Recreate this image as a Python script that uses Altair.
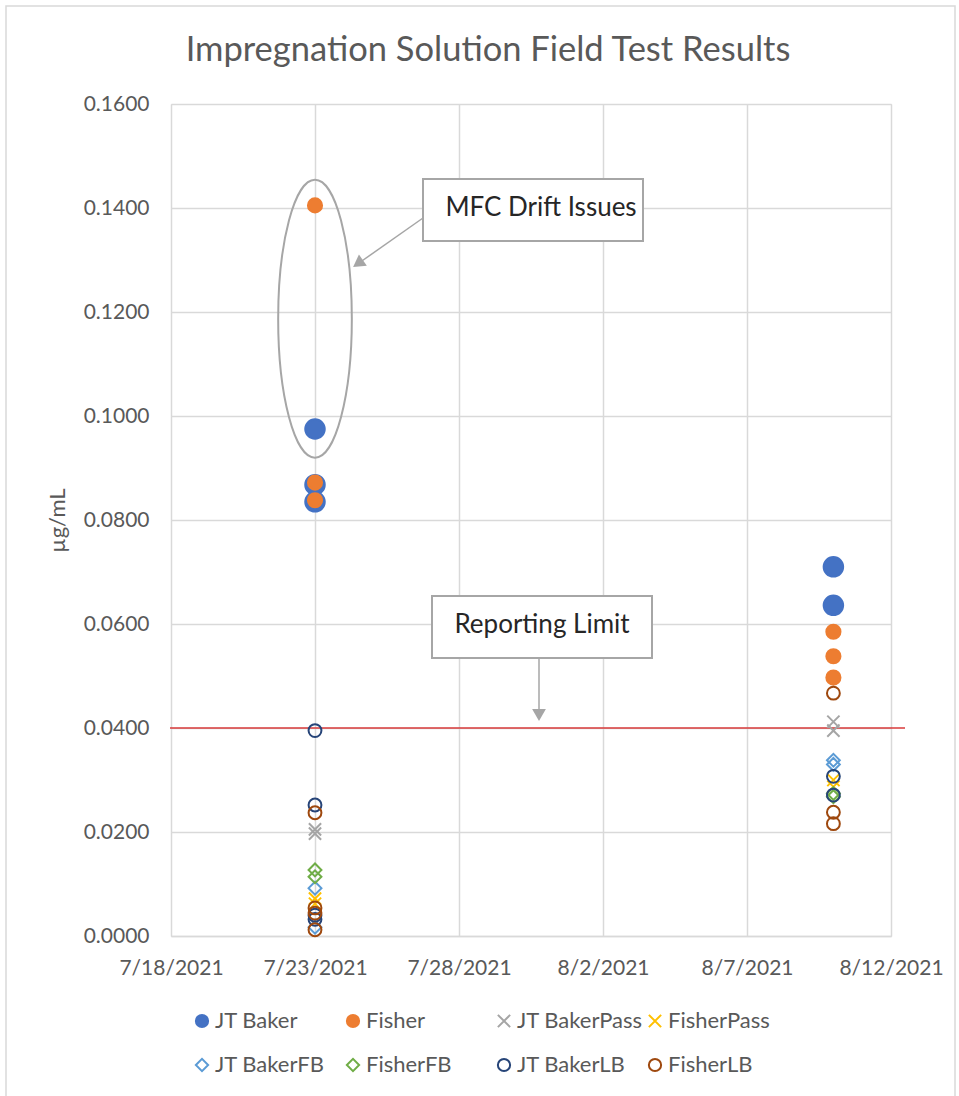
import altair as alt
import pandas as pd

# ---- data -------------------------------------------------------------
SERIES = ["JT Baker", "Fisher", "JT BakerPass", "FisherPass",
          "JT BakerFB", "FisherFB", "JT BakerLB", "FisherLB"]
STROKES = ["#4472C4", "#ED7D31", "#A5A5A5", "#FFC000",
           "#5B9BD5", "#70AD47", "#264478", "#9E480E"]
FILLS = ["#4472C4", "#ED7D31", "transparent", "transparent",
         "transparent", "transparent", "transparent", "transparent"]
X_PATH = "M-1,-1L1,1M-1,1L1,-1"
SHAPES = ["circle", "circle", X_PATH, X_PATH,
          "diamond", "diamond", "circle", "circle"]
SIZES = [380, 200, 150, 150, 165, 165, 165, 165]

DATE_1 = "2021-07-23"
DATE_2 = "2021-08-10"

# concentrations (µg/mL) per series at each sampling date
VALUES_1 = {
    "JT Baker": [0.0975, 0.0868, 0.0835],
    "Fisher": [0.1405, 0.0872, 0.0838],
    "JT BakerPass": [0.0205, 0.0197],
    "FisherPass": [0.0072, 0.0062],
    "JT BakerFB": [0.0092, 0.0017],
    "FisherFB": [0.0127, 0.0114],
    "JT BakerLB": [0.0395, 0.0252, 0.0040, 0.0032],
    "FisherLB": [0.0237, 0.0054, 0.0044, 0.0012],
}
VALUES_2 = {
    "JT Baker": [0.0710, 0.0636],
    "Fisher": [0.0585, 0.0538, 0.0497],
    "JT BakerPass": [0.0412, 0.0395],
    "FisherPass": [0.0300, 0.0287],
    "JT BakerFB": [0.0338, 0.0330],
    "FisherFB": [0.0274, 0.0268],
    "JT BakerLB": [0.0307, 0.0271],
    "FisherLB": [0.0467, 0.0238, 0.0216],
}

REPORTING_LIMIT = 0.0400
Y_TICKS = [0.0, 0.02, 0.04, 0.06, 0.08, 0.10, 0.12, 0.14, 0.16]
X_TICKS = [(2021, 7, 18), (2021, 7, 23), (2021, 7, 28),
           (2021, 8, 2), (2021, 8, 7), (2021, 8, 12)]

# circled group of drifted readings: centre date / value
DRIFT_DATE = "2021-07-23"
DRIFT_VALUE = 0.1187

TITLE = "Impregnation Solution Field Test Results"
Y_TITLE = "µg/mL"
NOTE_DRIFT = "MFC Drift Issues"
NOTE_LIMIT = "Reporting Limit"

# ---- tables -----------------------------------------------------------
rows = []
for s, sz in zip(SERIES, SIZES):
    for d, table in ((DATE_1, VALUES_1), (DATE_2, VALUES_2)):
        for v in table[s]:
            rows.append({"date": pd.Timestamp(d), "value": v, "series": s, "sz": sz})
points_df = pd.DataFrame(rows)

limit_df = pd.DataFrame({"value": [REPORTING_LIMIT]})
drift_df = pd.DataFrame({"date": [pd.Timestamp(DRIFT_DATE)], "value": [DRIFT_VALUE]})
one = pd.DataFrame({"k": [0]})

FONT = "Lato"
GREY_TEXT = "#595959"
GRID = "#D9D9D9"
LINE_GREY = "#A6A6A6"

W, H = 720, 832

x_enc = alt.X(
    "date:T",
    title=None,
    scale=alt.Scale(domain=[alt.DateTime(year=2021, month=7, date=18),
                            alt.DateTime(year=2021, month=8, date=12)]),
    axis=alt.Axis(
        values=[alt.DateTime(year=y, month=m, date=d) for y, m, d in X_TICKS],
        labelExpr="(month(datum.value)+1) + '/' + date(datum.value) + '/' + year(datum.value)",
        grid=True, gridColor=GRID, gridWidth=1.5,
        domain=True, domainColor=GRID, domainWidth=1.5,
        ticks=False, labelPadding=21, labelFontSize=21, labelFont=FONT,
        labelColor=GREY_TEXT, labelFlush=False, labelOverlap=False,
    ),
)
y_enc = alt.Y(
    "value:Q",
    title=Y_TITLE,
    scale=alt.Scale(domain=[0, 0.16], nice=False, zero=True),
    axis=alt.Axis(
        values=Y_TICKS, format=".4f",
        grid=True, gridColor=GRID, gridWidth=1.5,
        domain=False, ticks=False, labelPadding=22,
        labelFontSize=21, labelFont=FONT, labelColor=GREY_TEXT,
        titleFont=FONT, titleFontSize=22, titleFontWeight="normal",
        titleColor=GREY_TEXT, titlePadding=14,
    ),
)

legend = alt.Legend(
    title=None, orient="none", legendX=20, legendY=906,
    direction="horizontal", columns=4, gridAlign="all",
    columnPadding=1, rowPadding=22,
    labelFont=FONT, labelFontSize=22, labelColor=GREY_TEXT,
    symbolSize=150, symbolStrokeWidth=2, labelOffset=2,
    labelLimit=300,
)

# outer chart frame
frame = alt.Chart(one).mark_rect(fill="transparent", stroke=GRID, strokeWidth=1.5).encode(
    x=alt.value(-165), x2=alt.value(784), y=alt.value(-98), y2=alt.value(1010)
)

# chart heading, drawn as a text mark above the plot
heading = alt.Chart(one).mark_text(
    font=FONT, fontSize=34.5, color=GREY_TEXT, baseline="middle", align="center"
).encode(x=alt.value(317), y=alt.value(-53), text=alt.value(TITLE))

limit_rule = alt.Chart(limit_df).mark_rule(color="#D93A3A", strokeWidth=1.5).encode(
    y=y_enc, x=alt.value(-1), x2=alt.value(734)
)

points = alt.Chart(points_df).mark_point(filled=False, strokeWidth=2, opacity=1).encode(
    x=x_enc,
    y=y_enc,
    shape=alt.Shape("series:N", scale=alt.Scale(domain=SERIES, range=SHAPES), legend=legend),
    stroke=alt.Stroke("series:N", scale=alt.Scale(domain=SERIES, range=STROKES), legend=legend),
    fill=alt.Fill("series:N", scale=alt.Scale(domain=SERIES, range=FILLS), legend=legend),
    size=alt.Size("sz:Q", scale=None, legend=None),
)

ELLIPSE = "M0,-1A0.265,1 0 1,1 0,1A0.265,1 0 1,1 0,-1"
ellipse = alt.Chart(drift_df).mark_point(
    shape=ELLIPSE, size=278 * 278, filled=False, stroke=LINE_GREY, strokeWidth=2, opacity=1
).encode(x=x_enc, y=y_enc)

# callout boxes
box_drift = alt.Chart(one).mark_rect(fill="white", stroke=LINE_GREY, strokeWidth=2).encode(
    x=alt.value(252), x2=alt.value(472), y=alt.value(75), y2=alt.value(137)
)
box_limit = alt.Chart(one).mark_rect(fill="white", stroke=LINE_GREY, strokeWidth=2).encode(
    x=alt.value(261), x2=alt.value(481), y=alt.value(492), y2=alt.value(554)
)
text_drift = alt.Chart(one).mark_text(font=FONT, fontSize=26, color="#262626").encode(
    x=alt.value(370), y=alt.value(104), text=alt.value(NOTE_DRIFT)
)
text_limit = alt.Chart(one).mark_text(font=FONT, fontSize=26, color="#262626").encode(
    x=alt.value(371), y=alt.value(521), text=alt.value(NOTE_LIMIT)
)

# arrows
arrow_drift = alt.Chart(one).mark_rule(color=LINE_GREY, strokeWidth=1.5).encode(
    x=alt.value(252), y=alt.value(114), x2=alt.value(188), y2=alt.value(159)
)
head_drift = alt.Chart(one).mark_point(
    shape="triangle-up", size=190, filled=True, color=LINE_GREY, opacity=1, angle=235
).encode(x=alt.value(187), y=alt.value(159.5))
arrow_limit = alt.Chart(one).mark_rule(color=LINE_GREY, strokeWidth=1.5).encode(
    x=alt.value(368), y=alt.value(554), x2=alt.value(368), y2=alt.value(606)
)
head_limit = alt.Chart(one).mark_point(
    shape="triangle-down", size=190, filled=True, color=LINE_GREY, opacity=1
).encode(x=alt.value(368), y=alt.value(611))

chart = alt.layer(
    frame, heading, limit_rule, points, ellipse,
    box_drift, text_drift, arrow_drift, head_drift,
    box_limit, text_limit, arrow_limit, head_limit,
).properties(
    width=W, height=H,
    padding={"left": 171, "top": 104, "right": 68, "bottom": 160},
    autosize=alt.AutoSizeParams(type="none"),
).configure_view(stroke=None).configure(background="white")

chart.save("out.html", embed_options={"renderer": "svg", "actions": False})
